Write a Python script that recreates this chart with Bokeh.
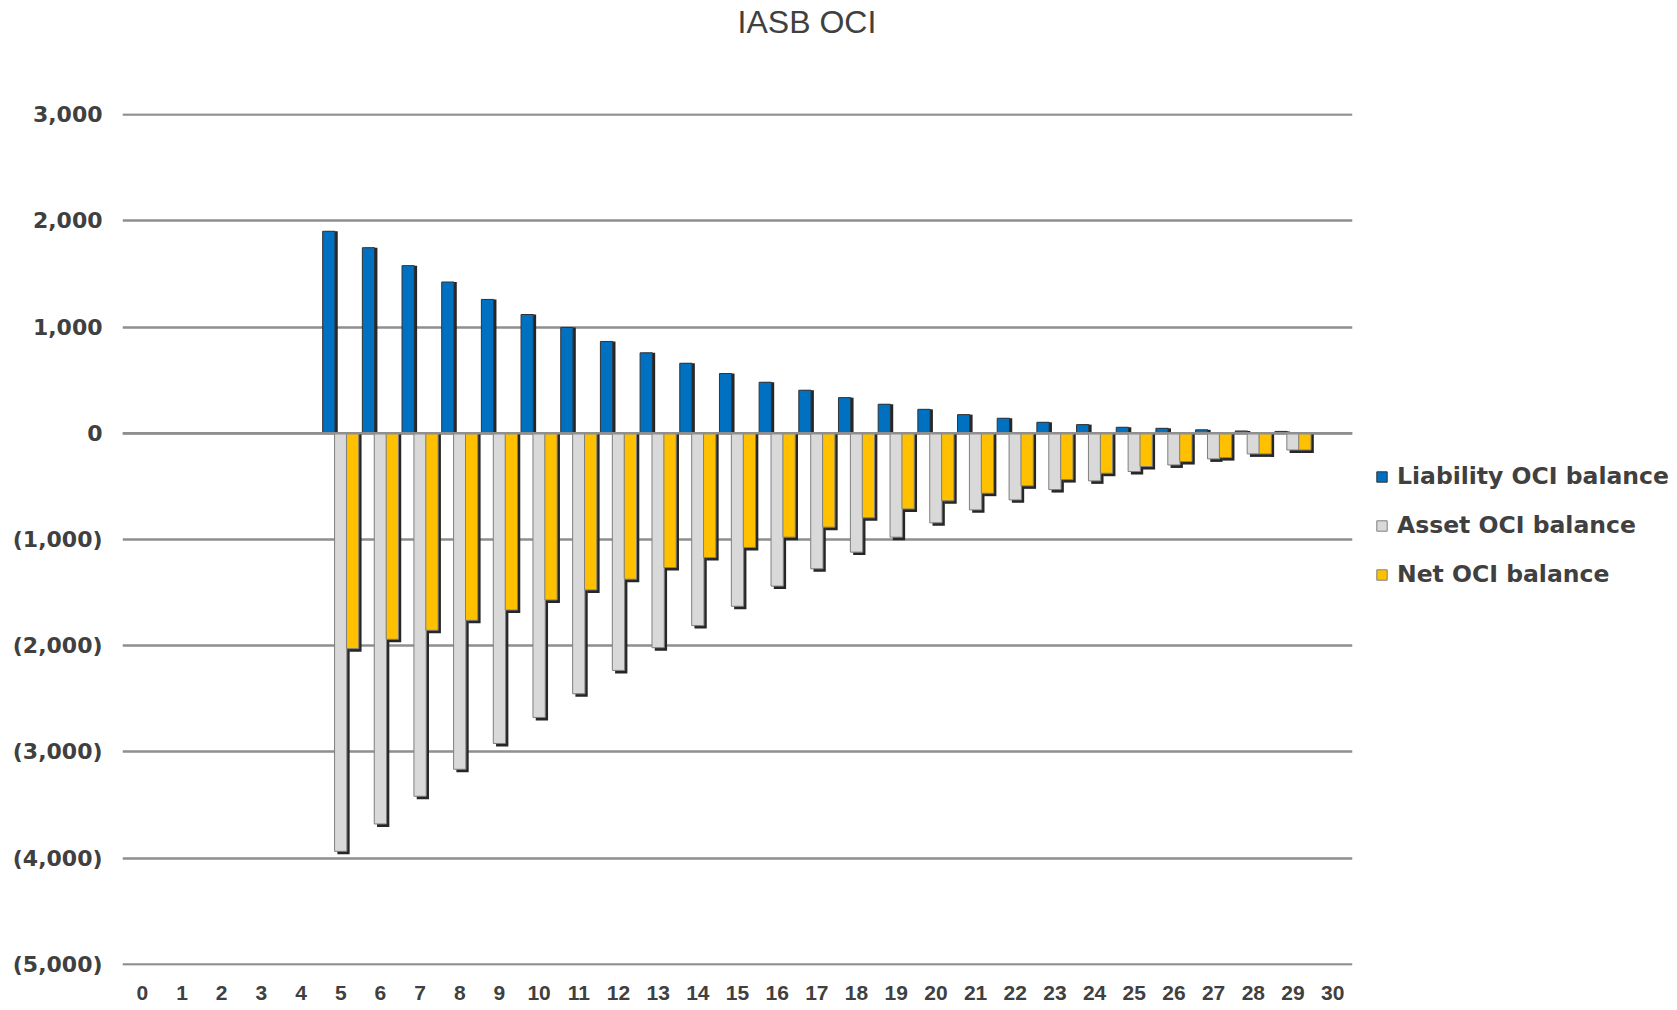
from bokeh.plotting import figure
from bokeh.models import (Range1d, FixedTicker, Legend, LegendItem,
                          Span, ColumnDataSource, LinearAxis)
from bokeh.transform import dodge
from bokeh.embed import file_html
from bokeh.resources import INLINE

# ---- data ----
x_ticks = list(range(31))                          # x-axis categories 0..30
x_tick_labels = [str(i) for i in x_ticks]
years = list(range(5, 30))                         # categories that carry bars
liability = [1903, 1748, 1579, 1425, 1261, 1119, 997, 865, 758, 660, 563,
             481, 406, 336, 274, 226, 176, 142, 104, 82, 57, 47, 33, 22, 18]
asset = [-3937, -3679, -3418, -3164, -2921, -2676, -2453, -2233, -2019, -1811, -1629,
         -1439, -1276, -1119, -978, -843, -721, -627, -530, -448, -360, -298, -241, -194, -157]
net = [-2028, -1940, -1855, -1761, -1664, -1569, -1475, -1374, -1264, -1170, -1075,
       -978, -884, -796, -712, -636, -564, -495, -436, -376, -313, -266, -229, -194, -157]
series_names = ["Liability OCI balance", "Asset OCI balance", "Net OCI balance"]
y_ticks = [3000, 2000, 1000, 0, -1000, -2000, -3000, -4000, -5000]
y_tick_labels = ["3,000", "2,000", "1,000", "0", "(1,000)", "(2,000)",
                 "(3,000)", "(4,000)", "(5,000)"]
title_text = "IASB OCI"

source = ColumnDataSource(dict(year=years, liability=liability, asset=asset, net=net))

FRAME_W = 1230
FRAME_H = 852
TOP = 112
p = figure(x_range=Range1d(-0.5, 30.5), y_range=Range1d(-5012, 3012),
           frame_width=FRAME_W, frame_height=FRAME_H,
           min_border_left=122, min_border_right=318, min_border_top=TOP,
           min_border_bottom=44,
           output_backend="svg", toolbar_location=None)

p.outline_line_color = None
p.background_fill_color = "white"
p.border_fill_color = "white"

# chart title: a single label on an axis above the frame, so it can sit
# off-centre like the original (centred over the whole chart area)
TITLE_POS = 16.75
title_axis = LinearAxis(ticker=FixedTicker(ticks=[TITLE_POS]),
                        major_label_overrides={TITLE_POS: title_text},
                        axis_line_color=None, major_tick_line_color=None,
                        minor_tick_line_color=None, major_tick_out=0,
                        major_label_standoff=74,
                        major_label_text_font="Liberation Sans",
                        major_label_text_font_size="32px",
                        major_label_text_color="#404040")
p.add_layout(title_axis, "above")

# y axis
p.yaxis.ticker = FixedTicker(ticks=y_ticks)
p.yaxis.major_label_overrides = {t: l for t, l in zip(y_ticks, y_tick_labels)}
p.yaxis.axis_line_color = None
p.yaxis.major_tick_line_color = None
p.yaxis.minor_tick_line_color = None
p.yaxis.major_tick_out = 0
p.yaxis.major_label_standoff = 20
p.yaxis.major_label_text_font = "DejaVu Sans"
p.yaxis.major_label_text_font_style = "bold"
p.yaxis.major_label_text_font_size = "22px"
p.yaxis.major_label_text_color = "#404040"

# x axis (bottom)
xaxis = p.below[0]
xaxis.ticker = FixedTicker(ticks=x_ticks)
xaxis.major_label_overrides = {t: l for t, l in zip(x_ticks, x_tick_labels)}
xaxis.axis_line_color = None
xaxis.major_tick_line_color = None
xaxis.minor_tick_line_color = None
xaxis.major_tick_out = 0
xaxis.major_label_standoff = 20
xaxis.major_label_text_font = "Liberation Sans"
xaxis.major_label_text_font_style = "bold"
xaxis.major_label_text_font_size = "21px"
xaxis.major_label_text_color = "#404040"

p.xgrid.grid_line_color = None
p.ygrid.ticker = FixedTicker(ticks=y_ticks)
p.ygrid.grid_line_color = "#8f8f8f"
p.ygrid.grid_line_width = 2.5

W = 0.31
shadow = "#262626"

# liability
p.vbar(x=dodge("year", -0.30 + 0.07), top="liability", bottom=0, width=W,
       source=source, fill_color=shadow, line_color=None)
r1 = p.vbar(x=dodge("year", -0.30), top="liability", bottom=0, width=W,
            source=source, fill_color="#0070C0", line_color="#333333", line_width=1)
# asset
p.vbar(x=dodge("year", 0.07), top=0, bottom=dodge("asset", -28), width=W,
       source=source, fill_color=shadow, line_color=None)
r2 = p.vbar(x=dodge("year", 0.0), top=0, bottom="asset", width=W,
            source=source, fill_color="#D9D9D9", line_color="#7f7f7f", line_width=1)
# net
p.vbar(x=dodge("year", 0.30 + 0.07), top=0, bottom=dodge("net", -28), width=W,
       source=source, fill_color=shadow, line_color=None)
r3 = p.vbar(x=dodge("year", 0.30), top=0, bottom="net", width=W,
            source=source, fill_color="#FFC000", line_color="#7f7f7f", line_width=1)

# zero axis line over the bars
p.add_layout(Span(location=0, dimension="width", line_color="#8f8f8f",
                  line_width=2.5, level="overlay"))

legend = Legend(items=[LegendItem(label=series_names[0], renderers=[r1]),
                       LegendItem(label=series_names[1], renderers=[r2]),
                       LegendItem(label=series_names[2], renderers=[r3])],
                location=(23, 371), orientation="vertical",
                glyph_width=13, glyph_height=13, label_height=40, spacing=9,
                label_standoff=9, padding=0, margin=0,
                border_line_color=None, background_fill_color=None,
                label_text_font="DejaVu Sans", label_text_font_style="bold",
                label_text_font_size="23.5px", label_text_color="#404040")
p.add_layout(legend, "right")

open("out.html", "w").write(file_html(p, INLINE))
